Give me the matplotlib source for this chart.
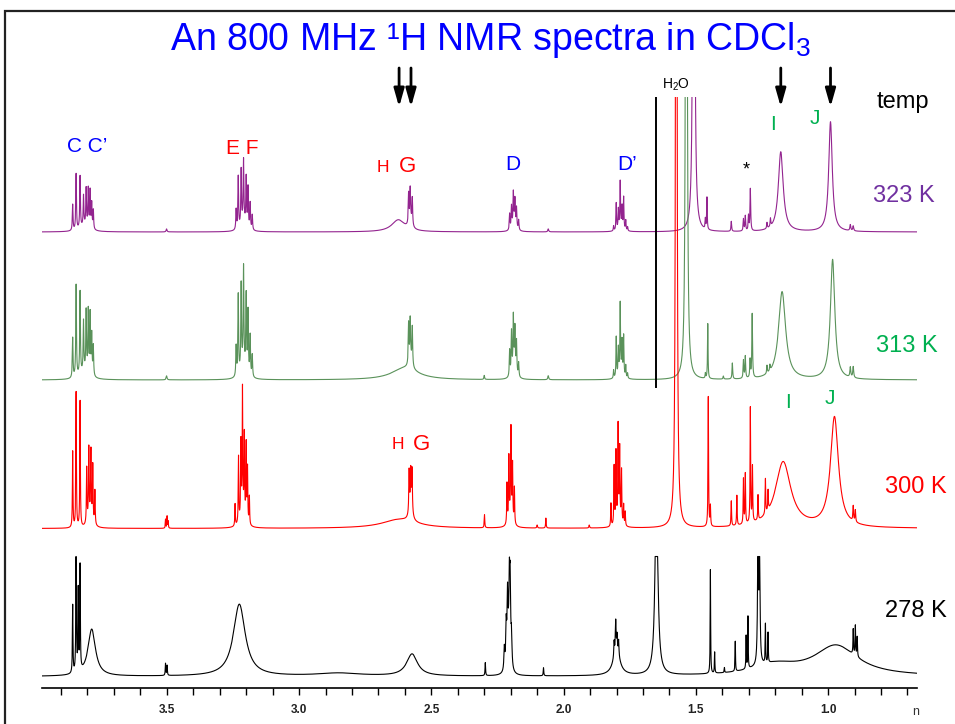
import numpy as np
import matplotlib
matplotlib.use("Agg")
import matplotlib.pyplot as plt
from matplotlib.patches import Rectangle

plt.rcParams['font.family'] = ['Liberation Sans', 'DejaVu Sans']
plt.rcParams['mathtext.fontset'] = 'custom'
plt.rcParams['mathtext.rm'] = 'Liberation Sans'

W, H = 955, 724

# spectra, stacked from the top; peaks are (ppm, height, half width in ppm)
temps = ['323 K', '313 K', '300 K', '278 K']
offsets = [456, 308, 159.5, 11.5]

peaks_323 = [
    (3.856, 26, .0015), (3.843, 56, .0015), (3.828, 52, .0015), (3.815, 30, .0015),
    (3.805, 37, .0015), (3.797, 38, .0015), (3.790, 37, .0015), (3.784, 25, .0015),
    (3.778, 19, .0015), (3.810, 6, .02), (3.501, 3, .002),
    (3.238, 20, .0015), (3.230, 52, .0015), (3.219, 55, .0015), (3.210, 61, .0015),
    (3.200, 48, .0015), (3.193, 40, .0015), (3.185, 26, .0015), (3.177, 15, .0015),
    (3.210, 10, .012),
    (2.625, 12, .03), (2.586, 30, .0015), (2.580, 30, .0015), (2.572, 27, .0015),
    (2.579, 10, .006),
    (2.204, 16, .0015), (2.197, 22, .0015), (2.190, 32, .0015), (2.184, 25, .0015),
    (2.178, 20, .0015), (2.170, 10, .0015), (2.187, 8, .008), (2.058, 3, .002),
    (1.811, 5, .0013), (1.801, 27, .0013), (1.793, 19, .0013), (1.786, 45, .0013),
    (1.779, 21, .0013), (1.773, 32, .0013), (1.765, 10, .0013), (1.758, 4, .0013),
    (1.785, 5, .01),
    (1.508, 2000, .0018), (1.464, 10, .0012), (1.458, 32, .0012), (1.366, 10, .0015),
    (1.320, 12, .0015), (1.313, 15, .0015), (1.301, 15, .0015), (1.294, 42, .0015),
    (1.231, 6, .0015), (1.218, 8, .0015),
    (1.179, 80, .011), (0.991, 110, .008), (0.916, 6, .002), (0.905, 5, .002),
]

peaks_313 = [
    (3.856, 40, .0015), (3.843, 92, .0015), (3.828, 83, .0015), (3.815, 50, .0015),
    (3.805, 60, .0015), (3.797, 62, .0015), (3.790, 60, .0015), (3.784, 40, .0015),
    (3.778, 30, .0015), (3.810, 8, .02), (3.501, 4, .002),
    (3.238, 30, .0015), (3.230, 80, .0015), (3.219, 85, .0015), (3.210, 97, .0015),
    (3.200, 75, .0015), (3.193, 62, .0015), (3.185, 40, .0015), (3.177, 22, .0015),
    (3.210, 14, .012),
    (2.600, 12, .06), (2.586, 40, .0015), (2.580, 38, .0015), (2.572, 38, .0015),
    (2.579, 12, .006), (2.300, 4, .0015),
    (2.204, 26, .0015), (2.197, 42, .0015), (2.190, 52, .0015), (2.184, 40, .0015),
    (2.178, 32, .0015), (2.170, 14, .0015), (2.187, 12, .008), (2.058, 4, .002),
    (1.811, 8, .0013), (1.801, 40, .0013), (1.793, 26, .0013), (1.786, 68, .0013),
    (1.779, 32, .0013), (1.773, 40, .0013), (1.765, 12, .0013), (1.758, 5, .0013),
    (1.785, 8, .01),
    (1.536, 2000, .0018), (1.464, 5, .0012), (1.455, 55, .0012), (1.396, 3, .0015),
    (1.362, 16, .0015), (1.320, 18, .0015), (1.313, 22, .0015), (1.295, 18, .0015),
    (1.287, 64, .0015), (1.231, 8, .0015), (1.220, 6, .0015),
    (1.174, 88, .016), (0.983, 120, .010), (0.916, 10, .002), (0.905, 11, .002),
]

peaks_300 = [
    (3.856, 76, .0012), (3.843, 135, .0012), (3.828, 126, .0012),
    (3.803, 55, .0013), (3.795, 70, .0013), (3.787, 66, .0013), (3.780, 56, .0013),
    (3.772, 34, .0013), (3.790, 12, .01),
    (3.505, 9, .001), (3.499, 12, .001), (3.495, 7, .001),
    (3.242, 22, .0012), (3.229, 66, .0012), (3.220, 74, .0012), (3.214, 122, .0012),
    (3.207, 80, .0012), (3.200, 76, .0012), (3.195, 54, .0012), (3.188, 28, .0012),
    (3.213, 16, .01),
    (2.620, 9, .08), (2.584, 42, .0015), (2.578, 36, .0015), (2.573, 42, .0015),
    (2.578, 14, .007), (2.299, 13, .0012),
    (2.214, 40, .0012), (2.207, 62, .0012), (2.199, 82, .0012), (2.193, 54, .0012),
    (2.186, 36, .0012), (2.200, 18, .007),
    (2.100, 3, .0015), (2.067, 10, .0012), (1.903, 3, .0015),
    (1.821, 23, .0012), (1.809, 58, .0012), (1.802, 70, .0012), (1.794, 92, .0012),
    (1.788, 70, .0012), (1.781, 52, .0012), (1.773, 20, .0012), (1.767, 14, .0012),
    (1.792, 10, .01),
    (1.574, 2000, .0018), (1.453, 130, .0012), (1.445, 20, .0012), (1.366, 25, .0012),
    (1.345, 30, .0012), (1.320, 45, .0012), (1.313, 50, .0012), (1.294, 115, .0012),
    (1.286, 55, .0012), (1.265, 25, .0012), (1.237, 35, .0012), (1.227, 20, .0012),
    (1.170, 66, .035), (0.976, 110, .018), (0.905, 15, .0015), (0.897, 12, .0015),
]

peaks_278 = [
    (3.856, 68, .0012), (3.843, 140, .0012), (3.835, 80, .0012), (3.828, 104, .0012),
    (3.784, 47, .017),
    (3.505, 12, .0012), (3.499, 10, .0012),
    (3.226, 72, .027), (2.850, 3, .1), (2.573, 22, .025), (2.296, 13, .0012),
    (2.224, 22, .002), (2.217, 40, .002), (2.212, 60, .002), (2.205, 66, .002),
    (2.202, 72, .002), (2.197, 30, .002), (2.208, 28, .006),
    (2.076, 8, .0012),
    (1.800, 25, .015), (1.809, 15, .0015), (1.803, 30, .0015), (1.798, 15, .0015),
    (1.792, 15, .0015),
    (1.649, 200, .006), (1.445, 104, .001), (1.429, 21, .001), (1.392, 5, .001),
    (1.351, 30, .001), (1.310, 33, .001), (1.303, 52, .001), (1.265, 140, .002),
    (1.259, 108, .002), (1.237, 39, .001), (1.227, 30, .001),
    (1.200, 10, .1), (0.970, 30, .1),
    (0.905, 25, .0012), (0.897, 30, .0012), (0.890, 20, .0012),
]
clip_278 = 120

h2o_black_ppm = 1.649
arrow_ppm = [2.622, 2.577, 1.179, 0.991]
tick_major = [3.5, 3.0, 2.5, 2.0, 1.5, 1.0]

line_colors = ['#93248f', '#5a925a', '#ff0000', '#000000']


def spectrum(x, peaks):
    y = np.zeros_like(x)
    for p, a, w in peaks:
        y += a / (1 + ((x - p) / w) ** 2)
    return y


fig = plt.figure(figsize=(W / 100, H / 100), dpi=100)
ax = fig.add_axes([42 / W, (H - 688) / H, 875 / W, (688 - 97) / H])
x = np.linspace(0.664, 3.972, 40000)

all_peaks = [peaks_323, peaks_313, peaks_300, peaks_278]
for peaks, off, col in zip(all_peaks, offsets, line_colors):
    y = spectrum(x, peaks)
    if col == '#000000':
        y = np.minimum(y, clip_278)
    ax.plot(x, y + off, color=col, lw=0.8)

ax.plot([h2o_black_ppm, h2o_black_ppm], [301, 591], color='black', lw=1.4)

ax.set_xlim(3.972, 0.664)
ax.set_ylim(0, 591)
for s in ['top', 'left', 'right']:
    ax.spines[s].set_visible(False)
ax.spines['bottom'].set_linewidth(1.2)
ax.set_yticks([])
ticks = np.round(np.arange(0.7, 3.95, 0.1), 1)
ax.set_xticks(ticks)
ax.set_xticklabels([f'{t:.1f}' if t in tick_major else '' for t in ticks],
                   fontsize=8.5, fontweight='bold', color='#222222')
ax.tick_params(axis='x', direction='out', length=5, width=1, pad=6.5)

for p in arrow_ppm:
    ax.annotate('', xy=(p, 581), xytext=(p, 620), annotation_clip=False,
                arrowprops=dict(arrowstyle='-|>,head_length=0.6,head_width=0.17',
                                mutation_scale=18, lw=2, color='black',
                                shrinkA=0, shrinkB=0))


def label(xp, yp, s, color, size, **kw):
    fig.text(xp / W, 1 - yp / H, s, color=color, fontsize=size,
             ha='center', va='center', **kw)


blue, red, green = '#0000ff', '#ff0000', '#00b050'
label(491, 40, 'An 800 MHz \u00b9H NMR spectra in CDCl$\\mathregular{_3}$', blue, 27)
label(87, 147, 'C C\u2019', blue, 15)
label(242, 148, 'E F', red, 15)
label(383, 167, 'H', red, 12.5)
label(407, 166, 'G', red, 16)
label(513, 164, 'D', blue, 15)
label(627, 164, 'D\u2019', blue, 15)
label(746, 170, '*', 'black', 13)
label(773, 125, 'I', green, 15)
label(815, 119, 'J', green, 15)
label(676, 85, r'H$\mathregular{_2}$O', 'black', 10)
label(903, 102, 'temp', 'black', 17)
label(904, 196, temps[0], '#7030a0', 17)
label(907, 346, temps[1], green, 17)
label(788, 402, 'I', green, 15)
label(830, 398, 'J', green, 15)
label(398, 445, 'H', red, 12.5)
label(421, 444, 'G', red, 16)
label(916, 487, temps[2], red, 17)
label(916, 611, temps[3], 'black', 17)
label(916, 712, 'n', '#333333', 9)

fig.patches.append(Rectangle((5 / W, -0.01), 1.02, 1 - 11 / H + 0.01,
                             transform=fig.transFigure, fill=False,
                             edgecolor='#222222', lw=1.6))

fig.savefig('out.png', dpi=100)
